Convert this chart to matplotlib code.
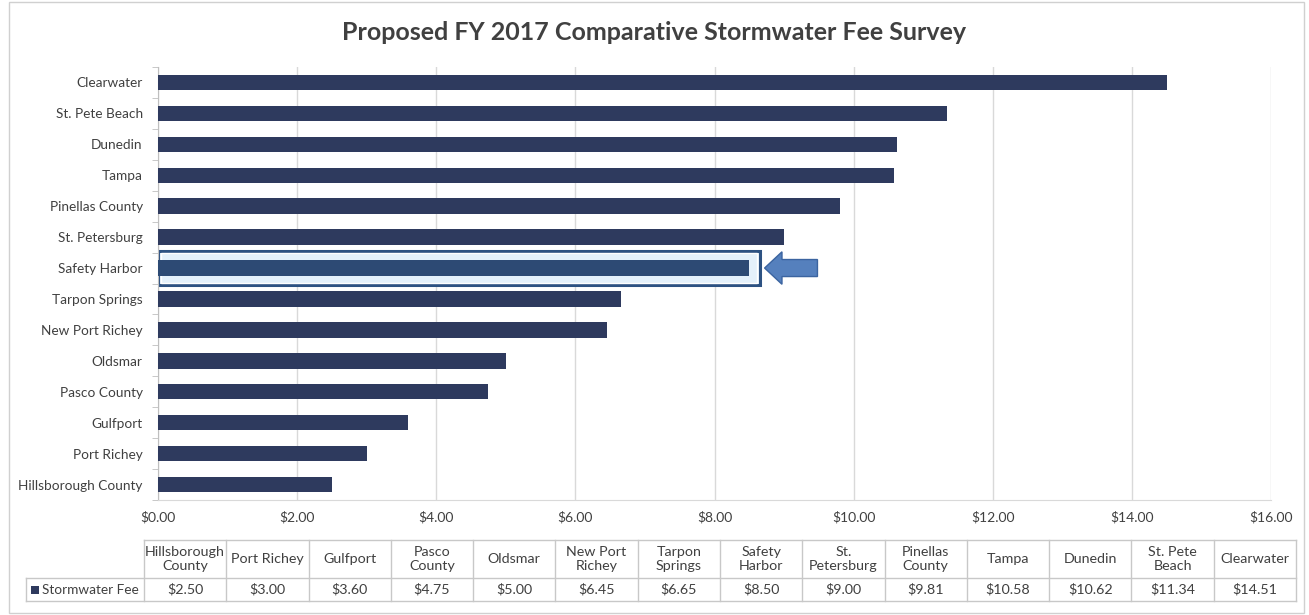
import matplotlib.pyplot as plt
from matplotlib.patches import Rectangle, FancyArrow
from matplotlib.ticker import FuncFormatter, MultipleLocator

# data (bottom to top, as in the table)
cities = [
    "Hillsborough County", "Port Richey", "Gulfport", "Pasco County", "Oldsmar",
    "New Port Richey", "Tarpon Springs", "Safety Harbor", "St. Petersburg",
    "Pinellas County", "Tampa", "Dunedin", "St. Pete Beach", "Clearwater",
]
table_headers = [
    "Hillsborough\nCounty", "Port Richey", "Gulfport", "Pasco\nCounty", "Oldsmar",
    "New Port\nRichey", "Tarpon\nSprings", "Safety\nHarbor", "St.\nPetersburg",
    "Pinellas\nCounty", "Tampa", "Dunedin", "St. Pete\nBeach", "Clearwater",
]
fees = [2.50, 3.00, 3.60, 4.75, 5.00, 6.45, 6.65, 8.50, 9.00, 9.81, 10.58, 10.62, 11.34, 14.51]
highlight = "Safety Harbor"
series_name = "Stormwater Fee"
title = "Proposed FY 2017 Comparative Stormwater Fee Survey"

BAR = "#2e3a5e"
BAR_HI = "#2d4a74"
TXT = "#404040"
GRID = "#d9d9d9"
FONT = ["Lato", "DejaVu Sans"]

plt.rcParams["font.family"] = FONT
W, H = 1309, 615
fig = plt.figure(figsize=(W / 100, H / 100), dpi=100)

# background layer in pixel coords for the table and frame
bg = fig.add_axes([0, 0, 1, 1])
bg.set_xlim(0, W)
bg.set_ylim(H, 0)
bg.axis("off")
bg.add_patch(Rectangle((9, 2), W - 14, H - 4, fill=False, edgecolor="#d0d0d0", linewidth=1))

fig.text(0.5, 1 - 33 / H, title, ha="center", va="center", fontsize=18,
         fontweight="bold", color="#404040")

ax = fig.add_axes([158 / W, 1 - 500 / H, (1271 - 158) / W, (500 - 67) / H])
ypos = list(range(len(cities)))
colors = [BAR_HI if c == highlight else BAR for c in cities]
ax.barh(ypos, fees, height=0.5, color=colors, zorder=3)

ax.set_xlim(0, 16)
ax.set_ylim(-0.5, len(cities) - 0.5)
ax.xaxis.set_major_locator(MultipleLocator(2))
ax.xaxis.set_major_formatter(FuncFormatter(lambda v, _: f"${v:.2f}"))
ax.grid(axis="x", color=GRID, linewidth=1, zorder=0)
ax.set_yticks(ypos)
ax.set_yticklabels(cities, fontsize=9.8, color=TXT)
ax.set_yticks([y - 0.5 for y in ypos] + [len(cities) - 0.5], minor=True)
ax.tick_params(axis="y", which="major", length=0, pad=11)
ax.tick_params(axis="y", which="minor", length=4, color="#bfbfbf")
ax.tick_params(axis="x", length=0, labelsize=10, labelcolor=TXT, pad=8)
for s in ["top", "right"]:
    ax.spines[s].set_visible(False)
ax.spines["left"].set_color("#bfbfbf")
ax.spines["bottom"].set_color(GRID)

# highlight box and arrow for Safety Harbor
hi = cities.index(highlight)
hv = fees[hi]
ax.add_patch(Rectangle((0.0, hi - 0.55), hv + 0.16, 1.1, facecolor="#e4f1fb",
                       edgecolor="#2d5282", linewidth=2.2, zorder=2))
ax.add_patch(Rectangle((0.05, hi - 0.47), hv + 0.06, 0.94, fill=False,
                       edgecolor="white", linewidth=1.0, zorder=2.5))
ax.add_patch(FancyArrow(hv + 0.98, hi, -0.76, 0, width=0.55, head_width=1.05,
                        head_length=0.25, length_includes_head=True,
                        facecolor="#5580bd", edgecolor="#3b64a0", linewidth=1, zorder=4))

# data table
x0, x1 = 144, 1296
leg_x = 26
y_top, y_mid, y_bot = 540, 578, 601
cw = (x1 - x0) / len(cities)
line_kw = dict(color="#c8c8c8", linewidth=1)
bg.plot([x0, x1], [y_top, y_top], **line_kw)
bg.plot([leg_x, x1], [y_mid, y_mid], **line_kw)
bg.plot([leg_x, x1], [y_bot, y_bot], **line_kw)
bg.plot([leg_x, leg_x], [y_mid, y_bot], **line_kw)
for i in range(len(cities) + 1):
    xx = x0 + i * cw
    bg.plot([xx, xx], [y_top, y_bot], **line_kw)
for i, (hd, v) in enumerate(zip(table_headers, fees)):
    cx = x0 + (i + 0.5) * cw
    bg.text(cx, (y_top + y_mid) / 2, hd, ha="center", va="center", fontsize=10.3,
            color=TXT, linespacing=1.3)
    bg.text(cx, (y_mid + y_bot) / 2, f"${v:.2f}", ha="center", va="center",
            fontsize=10.3, color=TXT)
bg.add_patch(Rectangle((leg_x + 5, (y_mid + y_bot) / 2 - 4), 8, 8, facecolor=BAR, edgecolor="none"))
bg.text(leg_x + 16, (y_mid + y_bot) / 2, series_name, ha="left", va="center",
        fontsize=9.8, color=TXT)

fig.savefig("out.png", dpi=100)
